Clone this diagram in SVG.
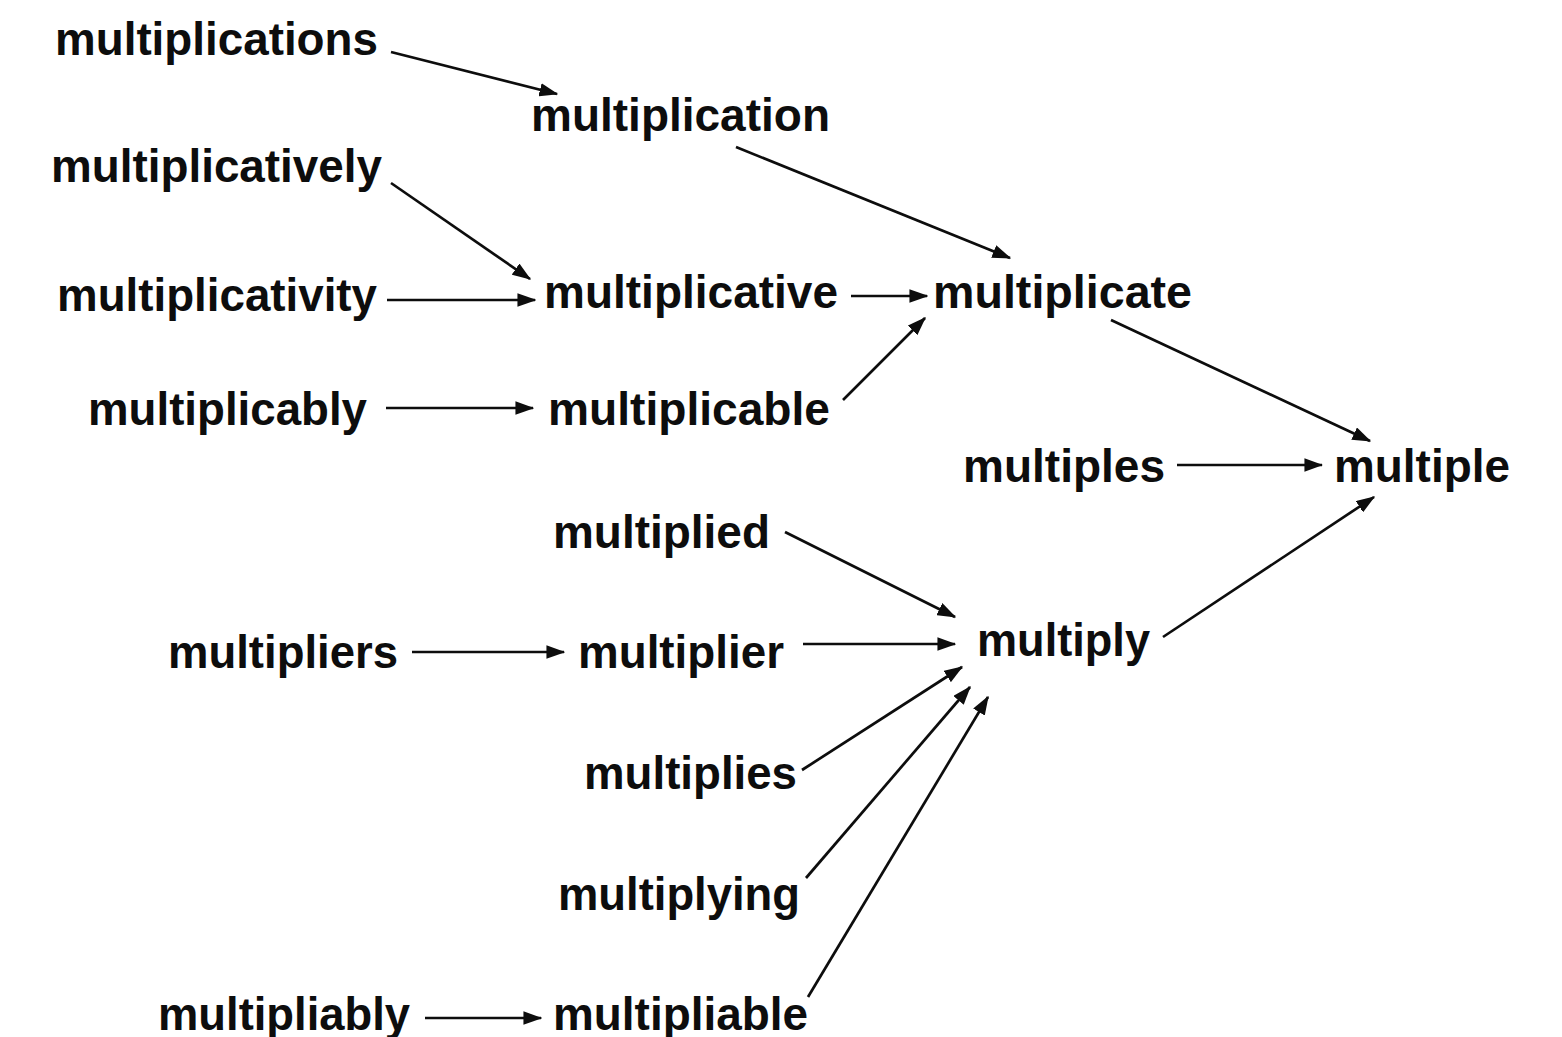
<svg xmlns="http://www.w3.org/2000/svg" width="1562" height="1037" viewBox="0 0 1562 1037">
<style>
text{font-family:"Liberation Sans",Arial,Helvetica,sans-serif;font-weight:bold;font-size:47px;fill:#0d0d0d;}
.e{stroke:#0d0d0d;stroke-width:2.7;fill:none;marker-end:url(#ah);}
</style>
<defs>
<marker id="ah" viewBox="0 0 14 10" refX="13" refY="5" markerWidth="7" markerHeight="5" markerUnits="strokeWidth" orient="auto">
<path d="M0,0 L14,5 L0,10 z" fill="#0d0d0d"/>
</marker>
</defs>
<rect width="1562" height="1037" fill="#fff"/>
<g id="edges">
<line class="e" x1="391" y1="52" x2="557" y2="94"/>
<line class="e" x1="736" y1="147" x2="1010" y2="258"/>
<line class="e" x1="391" y1="183" x2="530" y2="279"/>
<line class="e" x1="387" y1="300" x2="535" y2="300"/>
<line class="e" x1="851" y1="296" x2="927" y2="296"/>
<line class="e" x1="386" y1="408" x2="533" y2="408"/>
<line class="e" x1="843" y1="400" x2="925" y2="318"/>
<line class="e" x1="1111" y1="320" x2="1370" y2="441"/>
<line class="e" x1="1177" y1="465" x2="1322" y2="465"/>
<line class="e" x1="1163" y1="637" x2="1374" y2="497"/>
<line class="e" x1="785" y1="532" x2="955" y2="617"/>
<line class="e" x1="412" y1="652" x2="564" y2="652"/>
<line class="e" x1="803" y1="644" x2="955" y2="644"/>
<line class="e" x1="802" y1="770" x2="962" y2="667"/>
<line class="e" x1="806" y1="878" x2="970" y2="687"/>
<line class="e" x1="808" y1="997" x2="988" y2="697"/>
<line class="e" x1="425" y1="1018" x2="541" y2="1018"/>
</g>
<g id="n-multiplications"><text x="55" y="55" textLength="323" lengthAdjust="spacingAndGlyphs">multiplications</text></g>
<g id="n-multiplication"><text x="531" y="131" textLength="299" lengthAdjust="spacingAndGlyphs">multiplication</text></g>
<g id="n-multiplicatively"><text x="51" y="182" textLength="331" lengthAdjust="spacingAndGlyphs">multiplicatively</text></g>
<g id="n-multiplicativity"><text x="57" y="311" textLength="320" lengthAdjust="spacingAndGlyphs">multiplicativity</text></g>
<g id="n-multiplicative"><text x="544" y="308" textLength="294" lengthAdjust="spacingAndGlyphs">multiplicative</text></g>
<g id="n-multiplicate"><text x="933" y="308" textLength="259" lengthAdjust="spacingAndGlyphs">multiplicate</text></g>
<g id="n-multiplicably"><text x="88" y="425" textLength="279" lengthAdjust="spacingAndGlyphs">multiplicably</text></g>
<g id="n-multiplicable"><text x="548" y="425" textLength="282" lengthAdjust="spacingAndGlyphs">multiplicable</text></g>
<g id="n-multiples"><text x="963" y="482" textLength="202" lengthAdjust="spacingAndGlyphs">multiples</text></g>
<g id="n-multiple"><text x="1334" y="482" textLength="176" lengthAdjust="spacingAndGlyphs">multiple</text></g>
<g id="n-multiplied"><text x="553" y="548" textLength="217" lengthAdjust="spacingAndGlyphs">multiplied</text></g>
<g id="n-multipliers"><text x="168" y="668" textLength="230" lengthAdjust="spacingAndGlyphs">multipliers</text></g>
<g id="n-multiplier"><text x="578" y="668" textLength="206" lengthAdjust="spacingAndGlyphs">multiplier</text></g>
<g id="n-multiply"><text x="977" y="656" textLength="173" lengthAdjust="spacingAndGlyphs">multiply</text></g>
<g id="n-multiplies"><text x="584" y="789" textLength="213" lengthAdjust="spacingAndGlyphs">multiplies</text></g>
<g id="n-multiplying"><text x="558" y="910" textLength="242" lengthAdjust="spacingAndGlyphs">multiplying</text></g>
<g id="n-multipliably"><text x="158" y="1030" textLength="252" lengthAdjust="spacingAndGlyphs">multipliably</text></g>
<g id="n-multipliable"><text x="553" y="1030" textLength="255" lengthAdjust="spacingAndGlyphs">multipliable</text></g>
</svg>
